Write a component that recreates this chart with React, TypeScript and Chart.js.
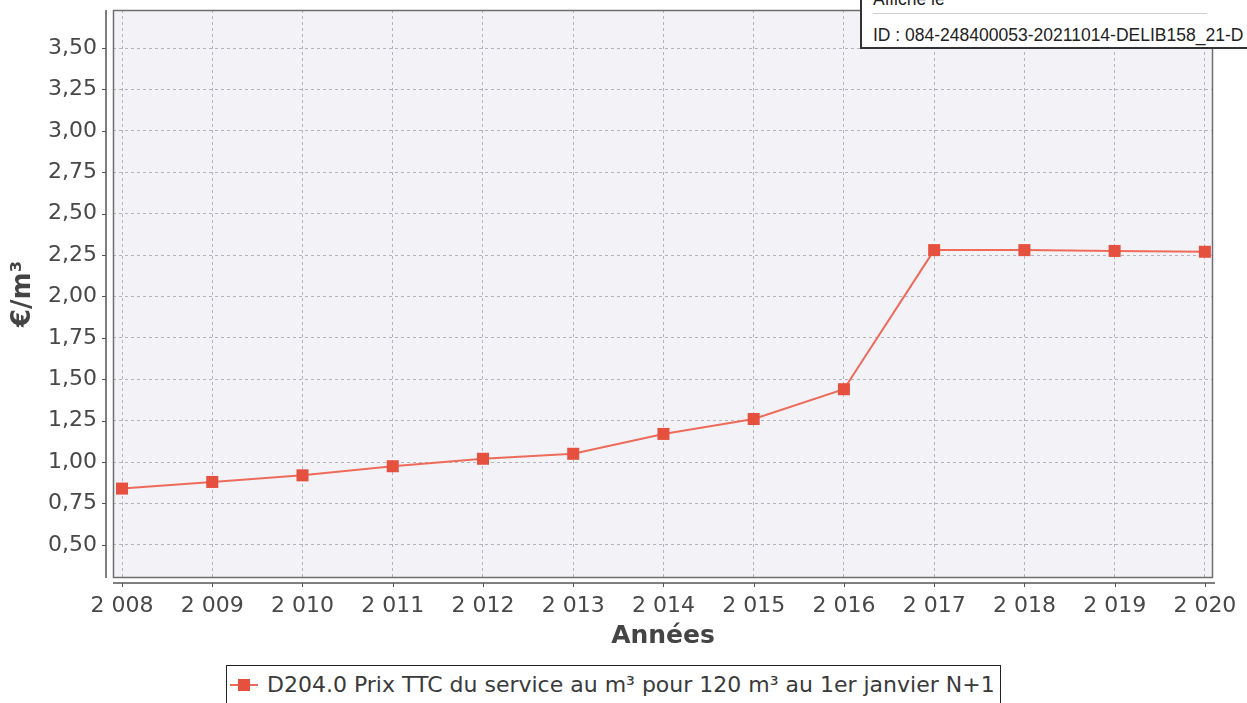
import React, { useEffect, useRef } from "react";
import { Chart, registerables } from "chart.js";

Chart.register(...registerables);

const years = [2008, 2009, 2010, 2011, 2012, 2013, 2014, 2015, 2016, 2017, 2018, 2019, 2020];
const prices = [0.84, 0.88, 0.92, 0.975, 1.02, 1.05, 1.17, 1.26, 1.44, 2.28, 2.28, 2.275, 2.27];
const yTicks = [0.5, 0.75, 1.0, 1.25, 1.5, 1.75, 2.0, 2.25, 2.5, 2.75, 3.0, 3.25, 3.5];
const seriesLabel = "D204.0 Prix TTC du service au m³ pour 120 m³ au 1er janvier N+1";
const xTitle = "Années";
const yTitle = "€/m³";
const stampLines = ["Affiché le", "ID : 084-248400053-20211014-DELIB158_21-D"];

const LINE_COLOR = "#ee6b5b";
const POINT_COLOR = "#e6503f";
const FONT = "'DejaVu Sans', sans-serif";

const formatYear = (v: number) => {
  const s = String(Math.round(v));
  return s.slice(0, 1) + "\u00a0" + s.slice(1);
};
const formatPrice = (v: number) => v.toFixed(2).replace(".", ",");

const framePlugin = {
  id: "frame",
  beforeDraw(chart: any) {
    const { ctx, chartArea } = chart;
    ctx.save();
    ctx.fillStyle = "#f3f3f7";
    ctx.fillRect(chartArea.left, chartArea.top, chartArea.right - chartArea.left, chartArea.bottom - chartArea.top);
    ctx.restore();
  },
  beforeDatasetsDraw(chart: any) {
    const { ctx, chartArea, scales } = chart;
    const { left, top, right, bottom } = chartArea;
    ctx.save();
    // plot border
    ctx.strokeStyle = "#6e6e6e";
    ctx.lineWidth = 1.5;
    ctx.strokeRect(left + 0.5, top + 0.5, right - left - 1, bottom - top - 1);
    // offset y axis
    const ax = left - 7;
    ctx.strokeStyle = "#555";
    ctx.lineWidth = 1.5;
    ctx.beginPath();
    ctx.moveTo(ax, top);
    ctx.lineTo(ax, bottom);
    ctx.stroke();
    ctx.lineWidth = 1;
    yTicks.forEach((t) => {
      const y = Math.round(scales.y.getPixelForValue(t)) + 0.5;
      ctx.beginPath();
      ctx.moveTo(ax - 4, y);
      ctx.lineTo(ax, y);
      ctx.stroke();
    });
    // offset x axis
    const ay = bottom + 5;
    ctx.lineWidth = 1.5;
    ctx.beginPath();
    ctx.moveTo(left, ay);
    ctx.lineTo(right + 2, ay);
    ctx.stroke();
    ctx.lineWidth = 1;
    years.forEach((t) => {
      const x = Math.round(scales.x.getPixelForValue(t)) + 0.5;
      ctx.beginPath();
      ctx.moveTo(x, ay);
      ctx.lineTo(x, ay + 4);
      ctx.stroke();
    });
    ctx.restore();
  },
};

export default function App() {
  const canvasRef = useRef<HTMLCanvasElement | null>(null);

  useEffect(() => {
    if (!canvasRef.current) return;
    const chart = new Chart(canvasRef.current, {
      type: "line",
      data: {
        datasets: [
          {
            label: seriesLabel,
            data: years.map((y, i) => ({ x: y, y: prices[i] })),
            borderColor: LINE_COLOR,
            borderWidth: 2,
            pointStyle: "rect",
            pointRadius: 8.5,
            pointBackgroundColor: POINT_COLOR,
            pointBorderWidth: 0,
            tension: 0,
          },
        ],
      },
      options: {
        animation: false,
        responsive: false,
        events: [],
        layout: { padding: { top: 10, right: 34, left: 0, bottom: 40 } },
        plugins: { legend: { display: false }, tooltip: { enabled: false } },
        scales: {
          x: {
            type: "linear",
            min: 2007.9,
            max: 2020.09,
            afterBuildTicks: (s: any) => {
              s.ticks = years.map((v) => ({ value: v }));
            },
            afterFit: (s: any) => {
              s.height = 85;
              s.paddingLeft = 0;
              s.paddingRight = 0;
            },
            grid: { color: "#b4b4bc", lineWidth: 1, drawTicks: false },
            border: { display: false, dash: [3, 3] },
            ticks: {
              padding: 15,
              color: "#484848",
              font: { family: FONT, size: 22 },
              maxRotation: 0,
              autoSkip: false,
              callback: (v: any) => formatYear(Number(v)),
            },
            title: {
              display: true,
              text: xTitle,
              color: "#444",
              font: { family: FONT, size: 25, weight: "bold" },
              padding: { top: 0, bottom: 12 },
            },
          },
          y: {
            type: "linear",
            min: 0.3,
            max: 3.73,
            afterBuildTicks: (s: any) => {
              s.ticks = yTicks.map((v) => ({ value: v }));
            },
            afterFit: (s: any) => {
              s.width = 113;
              s.paddingTop = 0;
              s.paddingBottom = 0;
            },
            grid: { color: "#b4b4bc", lineWidth: 1, drawTicks: false },
            border: { display: false, dash: [3, 3] },
            ticks: {
              padding: 16,
              color: "#484848",
              font: { family: FONT, size: 22 },
              autoSkip: false,
              callback: (v: any) => formatPrice(Number(v)),
            },
            title: {
              display: true,
              text: yTitle,
              color: "#444",
              font: { family: FONT, size: 26, weight: "bold" },
              padding: { top: 8, bottom: 0 },
            },
          },
        },
      },
      plugins: [framePlugin],
    });
    return () => chart.destroy();
  }, []);

  return (
    <div style={{ position: "fixed", left: 0, top: 0, width: 1247, height: 703, background: "#fff", overflow: "hidden" }}>
      <canvas ref={canvasRef} width={1247} height={703} style={{ width: 1247, height: 703, display: "block" }} />
      {/* stamp box */}
      <div
        style={{
          position: "absolute",
          left: 860,
          top: -22,
          width: 420,
          height: 67,
          border: "2px solid #333",
          background: "#fff",
          fontFamily: "'Liberation Sans', Arial, sans-serif",
          fontSize: 17.5,
          color: "#222",
        }}
      >
        <div style={{ position: "absolute", left: 11, top: 9, whiteSpace: "nowrap", lineHeight: "20px" }}>{stampLines[0]}</div>
        <div style={{ position: "absolute", left: 11, top: 33, width: 334, height: 1, background: "#d0d0d0" }} />
        <div style={{ position: "absolute", left: 11, top: 45, whiteSpace: "nowrap", lineHeight: "20px" }}>{stampLines[1]}</div>
      </div>
      {/* legend */}
      <div
        style={{
          position: "absolute",
          left: 226,
          top: 665,
          width: 773,
          height: 50,
          border: "1px solid #222",
          background: "#fff",
          fontFamily: FONT,
          fontSize: 22,
          color: "#3a3a3a",
        }}
      >
        <div style={{ position: "absolute", left: 3, top: 18, width: 28, height: 2, background: LINE_COLOR }} />
        <div style={{ position: "absolute", left: 11, top: 13, width: 12, height: 12, background: POINT_COLOR }} />
        <div style={{ position: "absolute", left: 40, top: 6, whiteSpace: "nowrap", lineHeight: "26px" }}>{seriesLabel}</div>
      </div>
    </div>
  );
}
